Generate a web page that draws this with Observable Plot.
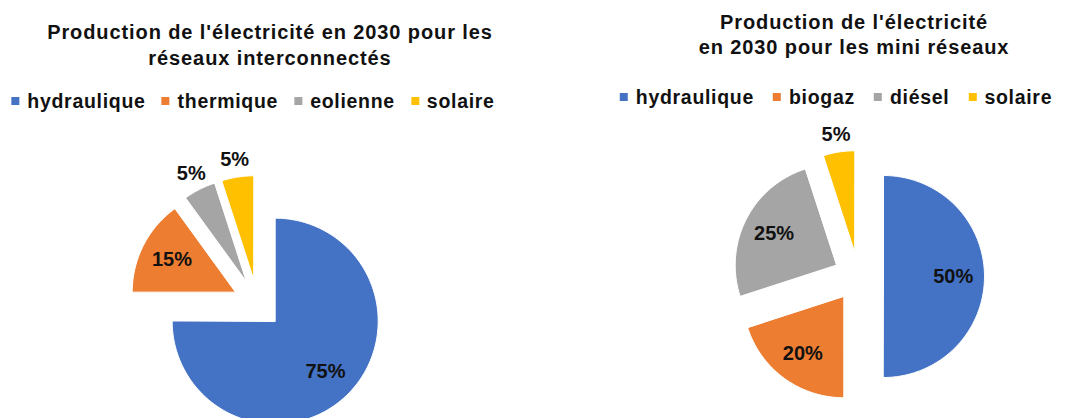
<!DOCTYPE html>
<html>
<head>
<meta charset="utf-8">
<script src="https://cdn.jsdelivr.net/npm/d3@7"></script>
<script src="https://cdn.jsdelivr.net/npm/@observablehq/plot@0.6"></script>
<style>
  html, body { margin: 0; padding: 0; background: #fff; }
  body { width: 1077px; height: 418px; overflow: hidden; font-family: "Liberation Sans", Arial, sans-serif; color: #111; }
  .wrap { display: flex; }
  .panel { position: relative; height: 418px; }
  .title { position: absolute; transform: translateX(-50%); white-space: nowrap; text-align: center;
           font-weight: bold; font-size: 20px; letter-spacing: 0.9px; }
  .legend { position: absolute; transform: translateX(-50%); white-space: nowrap; display: flex; align-items: center;
            font-weight: bold; font-size: 19.5px; letter-spacing: 0.7px; line-height: 22px; }
  .legend .item { display: flex; align-items: center; }
  .legend .item:last-child { margin-right: 0 !important; }
  .legend .sw { width: 8px; height: 8px; margin-right: 8px; }
  .chart { position: absolute; left: 0; top: 118px; }
</style>
</head>
<body>
<div class="wrap">
  <div class="panel" id="left" style="width:540px"></div>
  <div class="panel" id="right" style="width:537px"></div>
</div>
<script>
// ---- data ----
const leftTitle = ["Production de l'électricité en 2030 pour les", "réseaux interconnectés"];
const leftNames = ["hydraulique", "thermique", "eolienne", "solaire"];
const leftValues = [75, 15, 5, 5];

const rightTitle = ["Production de l'électricité", "en 2030 pour les mini réseaux"];
const rightNames = ["hydraulique", "biogaz", "diésel", "solaire"];
const rightValues = [50, 20, 25, 5];

const colors = ["#4472C4", "#ED7D31", "#A5A5A5", "#FFC000"];

// ---- helpers ----
function pieData(names, values, r, explode) {
  const arcs = d3.pie().sort(null).value(d => d)(values);
  const pts = [], labels = [];
  arcs.forEach((a, i) => {
    const name = names[i];
    const mid = (a.startAngle + a.endAngle) / 2;
    const ox = explode * Math.sin(mid), oy = -explode * Math.cos(mid);
    pts.push({name, x: ox, y: oy});
    const steps = Math.max(4, Math.ceil((a.endAngle - a.startAngle) / (Math.PI / 120)));
    for (let k = 0; k <= steps; k++) {
      const t = a.startAngle + (a.endAngle - a.startAngle) * k / steps;
      pts.push({name, x: ox + r * Math.sin(t), y: oy - r * Math.cos(t)});
    }
    const lr = values[i] <= 5 ? r + 18 : r * 0.69;
    labels.push({name, x: ox + lr * Math.sin(mid), y: oy - lr * Math.cos(mid), text: values[i] + "%"});
  });
  return {pts, labels};
}

function drawPanel(el, opts) {
  const t = document.createElement("div");
  t.className = "title";
  t.style.left = opts.titleX + "px";
  t.style.top = opts.titleY + "px";
  t.style.lineHeight = opts.lineH + "px";
  t.innerHTML = opts.title.join("<br>");
  el.appendChild(t);

  const lg = document.createElement("div");
  lg.className = "legend";
  lg.style.left = opts.legendX + "px";
  lg.style.top = opts.legendY + "px";
  opts.names.forEach((n, i) => {
    const it = document.createElement("div");
    it.className = "item";
    it.style.marginRight = opts.legendGap + "px";
    it.innerHTML = `<span class="sw" style="background:${colors[i]}"></span><span>${n}</span>`;
    lg.appendChild(it);
  });
  el.appendChild(lg);

  const {pts, labels} = pieData(opts.names, opts.values, opts.r, opts.explode);
  const W = opts.width, H = 300;
  const chart = Plot.plot({
    width: W, height: H, margin: 0,
    x: {domain: [-opts.cx, W - opts.cx], range: [0, W], axis: null},
    y: {domain: [-opts.cy, H - opts.cy], range: [0, H], axis: null},
    color: {domain: opts.names, range: colors},
    style: {background: "transparent", overflow: "visible"},
    marks: [
      Plot.line(pts, {x: "x", y: "y", z: "name", fill: "name", stroke: "white", strokeWidth: 1, curve: "linear-closed"}),
      Plot.text(labels, {x: "x", y: "y", text: "text", fontSize: 20, fontWeight: "bold", fill: "#111",
                         fontFamily: "Liberation Sans, Arial, sans-serif"})
    ]
  });
  chart.classList.add("chart");
  el.appendChild(chart);
}

drawPanel(document.getElementById("left"), {
  title: leftTitle, names: leftNames, values: leftValues,
  titleX: 270, titleY: 19, lineH: 26, legendX: 253, legendY: 90, legendGap: 16,
  width: 540, cx: 257, cy: 185, r: 103, explode: 25
});
drawPanel(document.getElementById("right"), {
  title: rightTitle, names: rightNames, values: rightValues,
  titleX: 314, titleY: 10, lineH: 25, legendX: 296, legendY: 86, legendGap: 19,
  width: 537, cx: 318, cy: 158, r: 101, explode: 25
});
</script>
</body>
</html>
